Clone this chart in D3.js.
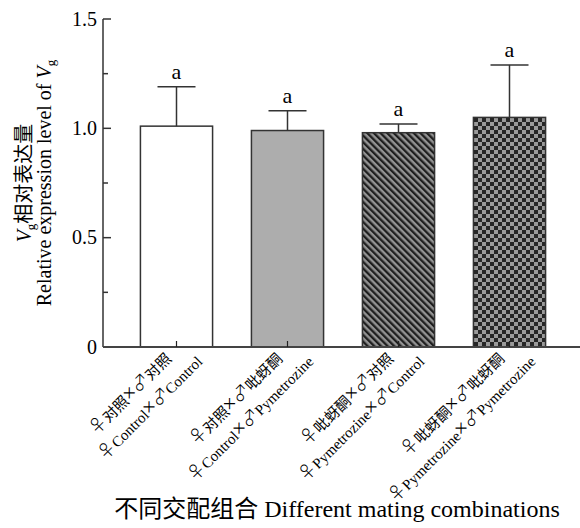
<!DOCTYPE html>
<html>
<head>
<meta charset="utf-8">
<script src="https://cdn.jsdelivr.net/npm/d3@7"></script>
<style>
  body { margin: 0; background: #fff; }
  text { font-family: "Liberation Serif", "Noto Sans CJK SC", serif; fill: #000; }
  .sym { font-family: "Noto Sans CJK SC", "DejaVu Sans"; font-weight: 300; }
</style>
</head>
<body>
<div id="chart"></div>
<script>
// data
const femaleCn = ["对照", "对照", "吡蚜酮", "吡蚜酮"];
const maleCn = ["对照", "吡蚜酮", "对照", "吡蚜酮"];
const femaleEn = ["Control", "Control", "Pymetrozine", "Pymetrozine"];
const maleEn = ["Control", "Pymetrozine", "Control", "Pymetrozine"];
const means = [1.01, 0.99, 0.98, 1.05];
const errors = [0.18, 0.09, 0.04, 0.24];
const letters = ["a", "a", "a", "a"];
const yTicks = [0, 0.5, 1.0, 1.5];
const yMinor = [0.25, 0.75, 1.25];
const fills = ["#ffffff", "#adadad", "url(#stripes)", "url(#checks)"];

const W = 580, H = 528;
const svg = d3.select("#chart").append("svg")
    .attr("width", W)
    .attr("height", H);

// patterns
const defs = svg.append("defs");
const stripes = defs.append("pattern")
    .attr("id", "stripes")
    .attr("patternUnits", "userSpaceOnUse")
    .attr("width", 4.7).attr("height", 4.7)
    .attr("patternTransform", "rotate(-45)");
stripes.append("rect").attr("width", 4.7).attr("height", 4.7).attr("fill", "#939393");
stripes.append("rect").attr("width", 2.3).attr("height", 4.7).attr("fill", "#1e1e1e");

const checks = defs.append("pattern")
    .attr("id", "checks")
    .attr("patternUnits", "userSpaceOnUse")
    .attr("x", 474).attr("y", 118)
    .attr("width", 8).attr("height", 8);
checks.append("rect").attr("width", 8).attr("height", 8).attr("fill", "#9a9a9a");
checks.append("rect").attr("width", 4).attr("height", 4).attr("fill", "#262626");
checks.append("rect").attr("x", 4).attr("y", 4).attr("width", 4).attr("height", 4).attr("fill", "#262626");

const x0 = 103, x1 = 580;
const x = d3.scaleBand().domain(d3.range(4)).range([121, 565])
    .paddingInner(0.35).paddingOuter(0.175);
const y = d3.scaleLinear().domain([0, 1.5]).range([347, 19]);

// bars
svg.selectAll(".bar")
    .data(means)
    .enter()
    .append("rect")
    .attr("class", "bar")
    .attr("x", (d, i) => x(i))
    .attr("y", d => y(d))
    .attr("width", x.bandwidth())
    .attr("height", d => y(0) - y(d))
    .attr("fill", (d, i) => fills[i])
    .attr("stroke", "#333")
    .attr("stroke-width", 1.5);

// error bars (upper only)
const capW = 38;
means.forEach((m, i) => {
    const cx = x(i) + x.bandwidth() / 2;
    svg.append("line")
        .attr("x1", cx).attr("x2", cx)
        .attr("y1", y(m)).attr("y2", y(m + errors[i]))
        .attr("stroke", "#333").attr("stroke-width", 1.5);
    svg.append("line")
        .attr("x1", cx - capW / 2).attr("x2", cx + capW / 2)
        .attr("y1", y(m + errors[i])).attr("y2", y(m + errors[i]))
        .attr("stroke", "#333").attr("stroke-width", 1.5);
    svg.append("text")
        .attr("x", cx)
        .attr("y", y(m + errors[i]) - 8)
        .attr("text-anchor", "middle")
        .attr("font-size", "22px")
        .text(letters[i]);
});

// axes
const yAxis = svg.append("g").attr("transform", `translate(${x0},0)`);
yAxis.append("line")
    .attr("x1", 0).attr("x2", 0).attr("y1", y(1.5)).attr("y2", y(0))
    .attr("stroke", "#333").attr("stroke-width", 1.5);
yAxis.selectAll(".major").data(yTicks).enter().append("line")
    .attr("x1", 0).attr("x2", 8).attr("y1", d => y(d)).attr("y2", d => y(d))
    .attr("stroke", "#333").attr("stroke-width", 1.5);
yAxis.selectAll(".minor").data(yMinor).enter().append("line")
    .attr("x1", 0).attr("x2", 5).attr("y1", d => y(d)).attr("y2", d => y(d))
    .attr("stroke", "#333").attr("stroke-width", 1.5);
yAxis.selectAll(".lab").data(yTicks).enter().append("text")
    .attr("x", -6).attr("y", d => y(d))
    .attr("dy", "0.33em")
    .attr("text-anchor", "end")
    .attr("font-size", "20px")
    .text(d => d === 0 ? "0" : d.toFixed(1));

svg.append("line")
    .attr("x1", x0).attr("x2", x1).attr("y1", y(0)).attr("y2", y(0))
    .attr("stroke", "#444").attr("stroke-width", 2);
svg.selectAll(".xtick").data(d3.range(4)).enter().append("line")
    .attr("x1", i => x(i) + x.bandwidth() / 2).attr("x2", i => x(i) + x.bandwidth() / 2)
    .attr("y1", y(0)).attr("y2", y(0) - 6)
    .attr("stroke", "#222").attr("stroke-width", 1.2);

// category labels, rotated
function crossLabel(t, fem, mal) {
    t.append("tspan").attr("class", "sym").attr("font-size", "18px").text("♀");
    t.append("tspan").text(fem);
    t.append("tspan").attr("font-size", "21px").text("×");
    t.append("tspan").attr("class", "sym").attr("font-size", "18px").text("♂");
    t.append("tspan").text(mal);
}
d3.range(4).forEach(i => {
    const g = svg.append("g")
        .attr("transform", `translate(${x(i) + x.bandwidth() / 2},${y(0)}) rotate(-45)`);
    const l1 = g.append("text").attr("x", -12).attr("y", 6).attr("text-anchor", "end").attr("font-size", "15px");
    crossLabel(l1, femaleCn[i], maleCn[i]);
    const l2 = g.append("text").attr("x", 8).attr("y", 30).attr("text-anchor", "end").attr("font-size", "15px");
    crossLabel(l2, femaleEn[i], maleEn[i]);
});

// axis titles
const yt = svg.append("g").attr("transform", "translate(0,183) rotate(-90)");
const t1 = yt.append("text").attr("x", 0).attr("y", 31).attr("text-anchor", "middle").attr("font-size", "20px");
t1.append("tspan").attr("font-style", "italic").text("V");
t1.append("tspan").attr("font-size", "13px").attr("dy", "4").text("g");
t1.append("tspan").attr("dy", "-4").text("相对表达量");
const t2 = yt.append("text").attr("x", 0).attr("y", 51).attr("text-anchor", "middle").attr("font-size", "20px");
t2.append("tspan").text("Relative expression level of ");
t2.append("tspan").attr("font-style", "italic").text("V");
t2.append("tspan").attr("font-size", "13px").attr("dy", "4").text("g");

svg.append("text")
    .attr("x", 337).attr("y", 517)
    .attr("text-anchor", "middle")
    .attr("font-size", "24px")
    .text("不同交配组合 Different mating combinations");
</script>
</body>
</html>
